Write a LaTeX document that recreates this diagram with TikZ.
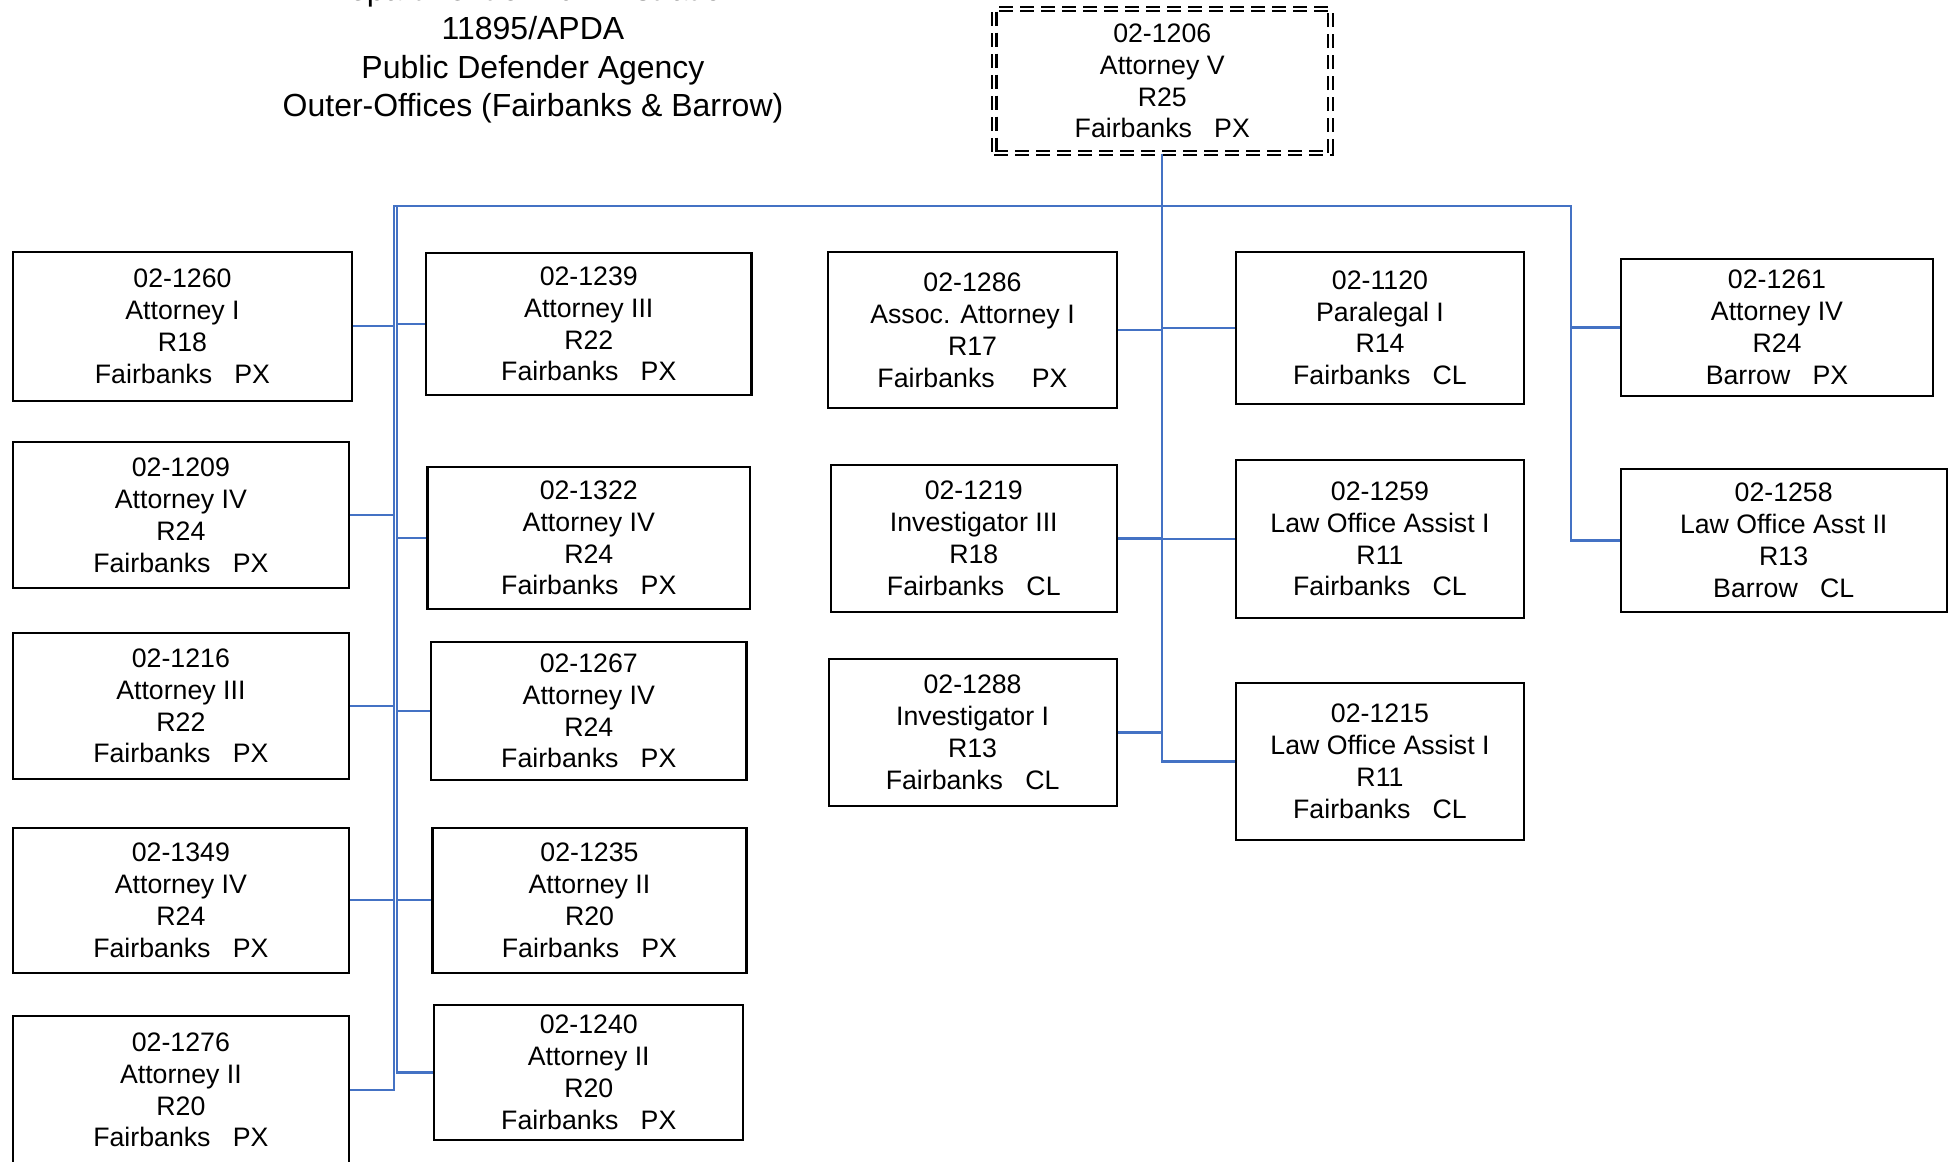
\documentclass[tikz,border=0pt]{standalone}
\usepackage{fontspec}
\setmainfont{Liberation Sans}
\usepackage{tikz}
\definecolor{linkblue}{RGB}{68,114,196}

\begin{document}
\begin{tikzpicture}
            [x=0.1mm, y=-0.1mm,
             post/.style={draw=black, line width=0.6pt, align=center, inner sep=0pt,
                          font=\fontsize{7.6}{9.05}\selectfont},
             headpost/.style={post, double, double distance=0.25mm,
                          dash pattern=on 1.4mm off 0.7mm},
             link/.style={draw=linkblue, line width=0.6pt}]
            \useasboundingbox (0,0) rectangle (1954,1162);

            % title
            \node[align=center, inner sep=0pt, font=\fontsize{9.1}{11}\selectfont] (title) at (533,50.5)
                {Department of Administration\\11895/APDA\\Public Defender Agency\\Outer-Offices (Fairbanks \& Barrow)};

            \node[headpost, minimum width=33.62mm, minimum height=14.4mm] (top) at (1162.3,81) {02-1206\\Attorney V\\R25\\Fairbanks\ \ \ PX};

            % left column
            \node[post, minimum width=33.96mm, minimum height=14.93mm] (p1260) at (182.5,326.3) {02-1260\\Attorney I\\R18\\Fairbanks\ \ \ PX};
            \node[post, minimum width=33.63mm, minimum height=14.56mm] (p1209) at (180.9,515.2) {02-1209\\Attorney IV\\R24\\Fairbanks\ \ \ PX};
            \node[post, minimum width=33.63mm, minimum height=14.6mm] (p1216) at (180.9,706) {02-1216\\Attorney III\\R22\\Fairbanks\ \ \ PX};
            \node[post, minimum width=33.63mm, minimum height=14.55mm] (p1349) at (180.9,900.3) {02-1349\\Attorney IV\\R24\\Fairbanks\ \ \ PX};
            \node[post, minimum width=33.63mm, minimum height=14.8mm] (p1276) at (180.9,1090) {02-1276\\Attorney II\\R20\\Fairbanks\ \ \ PX};

            \node[post, minimum width=32.55mm, minimum height=14.2mm] (p1239) at (588.8,324) {02-1239\\Attorney III\\R22\\Fairbanks\ \ \ PX};
            \node[post, minimum width=32.25mm, minimum height=14.2mm] (p1322) at (588.8,538) {02-1322\\Attorney IV\\R24\\Fairbanks\ \ \ PX};
            \node[post, minimum width=31.55mm, minimum height=13.8mm] (p1267) at (588.8,711) {02-1267\\Attorney IV\\R24\\Fairbanks\ \ \ PX};
            \node[post, minimum width=31.4mm, minimum height=14.55mm] (p1235) at (589.5,900.3) {02-1235\\Attorney II\\R20\\Fairbanks\ \ \ PX};
            \node[post, minimum width=30.9mm, minimum height=13.5mm] (p1240) at (588.8,1072.5) {02-1240\\Attorney II\\R20\\Fairbanks\ \ \ PX};

            % middle
            \node[post, minimum width=28.84mm, minimum height=15.6mm] (p1286) at (972.5,330.3) {02-1286\\Assoc. Attorney I\\R17\\Fairbanks\ \ \ \ \ PX};
            \node[post, minimum width=28.56mm, minimum height=14.7mm] (p1219) at (973.8,538.5) {02-1219\\Investigator III\\R18\\Fairbanks\ \ \ CL};
            \node[post, minimum width=28.8mm, minimum height=14.7mm] (p1288) at (972.6,732.5) {02-1288\\Investigator I\\R13\\Fairbanks\ \ \ CL};

            \node[post, minimum width=28.8mm, minimum height=15.2mm] (p1120) at (1380,327.8) {02-1120\\Paralegal I\\R14\\Fairbanks\ \ \ CL};
            \node[post, minimum width=28.8mm, minimum height=15.8mm] (p1259) at (1380,539) {02-1259\\Law Office Assist I\\R11\\Fairbanks\ \ \ CL};
            \node[post, minimum width=28.8mm, minimum height=15.7mm] (p1215) at (1380,761.5) {02-1215\\Law Office Assist I\\R11\\Fairbanks\ \ \ CL};

            % Barrow
            \node[post, minimum width=31.26mm, minimum height=13.64mm] (p1261) at (1777,327.5) {02-1261\\Attorney IV\\R24\\Barrow\ \ \ PX};
            \node[post, minimum width=32.6mm, minimum height=14.24mm] (p1258) at (1783.7,540.5) {02-1258\\Law Office Asst II\\R13\\Barrow\ \ \ CL};

            \coordinate (busL) at (394,206);
            \coordinate (busLi) at (396.7,206);
            \coordinate (busR) at (1570.7,206);

            \draw[link] (p1276.east) -| (busL) -- (busR) |- (p1258.west);
            \draw[link] (busLi) |- (p1240.west);
            \draw[link] (top.south) |- (p1215.west);
            \draw[link] (p1261.west) -- (p1261.west -| busR);

            \foreach \n in {1260,1209,1216,1349}
                \draw[link] (p\n.east) -- (p\n.east -| busL);
            \foreach \n in {1239,1322,1267,1235}
                \draw[link] (p\n.west) -- (p\n.west -| busLi);
            \foreach \n in {1286,1219,1288}
                \draw[link] (p\n.east) -- (p\n.east -| top.south);
            \foreach \n in {1120,1259}
                \draw[link] (p\n.west) -- (p\n.west -| top.south);
\end{tikzpicture}
\end{document}
